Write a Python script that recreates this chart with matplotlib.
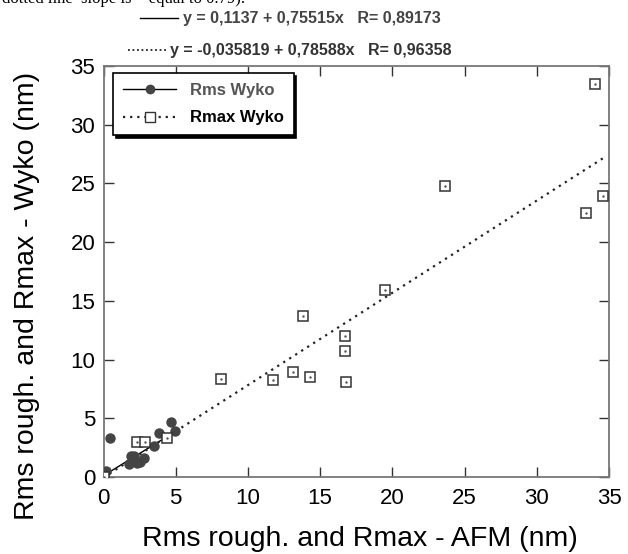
import numpy as np
import matplotlib
matplotlib.use("Agg")
import matplotlib.pyplot as plt
from matplotlib.lines import Line2D

plt.rcParams['font.family'] = ['Liberation Sans', 'DejaVu Sans']

# --- data
rms_afm = [0.2, 0.45, 1.75, 1.9, 2.1, 2.3, 2.5, 2.8, 3.5, 3.85, 4.65, 4.95]
rms_wyko = [0.5, 3.3, 1.1, 1.75, 1.8, 1.15, 1.3, 1.6, 2.65, 3.75, 4.7, 3.95]

rmax_afm = [0.03, 2.35, 2.85, 4.4, 8.15, 11.75, 13.1, 14.3, 16.8, 13.8,
            16.7, 16.7, 19.5, 23.65, 33.4, 34.6, 34.0]
rmax_wyko = [0.03, 2.95, 2.95, 3.3, 8.35, 8.25, 8.9, 8.5, 8.1, 13.7,
             12.0, 10.7, 15.9, 24.8, 22.5, 23.9, 33.5]

# fit coefficients (intercept, slope, R)
fit_rms = (0.1137, 0.75515, 0.89173)
fit_rmax = (-0.035819, 0.78588, 0.96358)

W, H = 628, 554
fig = plt.figure(figsize=(W / 100, H / 100), dpi=100)
ax = fig.add_axes([103.5 / W, (H - 477) / H, (609 - 103.5) / W, (477 - 66) / H])

# fit lines
xs = np.array([min(rms_afm), max(rms_afm)])
ax.plot(xs, fit_rms[0] + fit_rms[1] * xs, color='black', lw=1.0, zorder=2)
xm = np.array([0.0, 34.6])
ax.plot(xm, fit_rmax[0] + fit_rmax[1] * xm, color='#222222', lw=1.6,
        linestyle=(0, (1, 2.2)), zorder=2)

# points
ax.plot(rms_afm, rms_wyko, 'o', color='#444444', ms=6.5, mec='#444444',
        zorder=3)
ax.plot(rmax_afm, rmax_wyko, 's', mfc='white', mec='#333333', ms=6.5,
        mew=1.1, zorder=4)
ax.plot(rmax_afm, rmax_wyko, '.', color='#555555', ms=1.5, zorder=5)

ax.set_xlim(0, 35)
ax.set_ylim(0, 35)
ax.set_xticks(range(0, 36, 5))
ax.set_yticks(range(0, 36, 5))
ax.tick_params(direction='in', length=7, width=1, color='#333333',
               top=True, right=True, labelsize=16)
ax.tick_params(axis='x', pad=8)
ax.tick_params(axis='y', pad=6)
for s in ax.spines.values():
    s.set_color('#777777')
    s.set_linewidth(1.3)

fig.text(360 / W, 1 - 539 / H, 'Rms rough. and Rmax - AFM (nm)',
         fontsize=20.5, ha='center', va='center')
fig.text(27 / W, 1 - 296 / H, 'Rms rough. and Rmax - Wyko (nm)',
         fontsize=20.5, ha='center', va='center', rotation=90)

# legend
handles = [
    Line2D([], [], color='black', lw=1.0, marker='o', ms=6,
           mfc='#444444', mec='#444444'),
    Line2D([], [], color='#222222', lw=1.6, linestyle=(0, (1, 2.2)),
           marker='s', ms=6.5, mfc='white', mec='#333333'),
]
leg = ax.legend(handles, ['Rms Wyko', 'Rmax Wyko'], loc='upper left',
                bbox_to_anchor=(0.019, 0.983), borderaxespad=0,
                fancybox=False, handlelength=3.2, labelspacing=0.75,
                borderpad=0.6,
                prop={'weight': 'bold', 'size': 12},
                shadow={'color': 'black', 'alpha': 1.0},
                framealpha=1.0, edgecolor='black')
leg.get_frame().set_linewidth(1.2)
leg.get_texts()[0].set_color('#555555')

# equations on top
eq1 = 'y = %s + %sx   R= %s' % tuple(str(v).replace('.', ',') for v in fit_rms)
eq2 = 'y = %s + %sx   R= %s' % tuple(str(v).replace('.', ',') for v in fit_rmax)
fig.add_artist(Line2D([140 / W, 178 / W], [1 - 18 / H, 1 - 18 / H],
                      color='black', lw=1.0))
fig.text(183 / W, 1 - 18 / H, eq1, fontsize=11.5, weight='bold',
         color='#444444', va='center')
fig.add_artist(Line2D([128 / W, 167 / W], [1 - 50 / H, 1 - 50 / H],
                      color='#222222', lw=1.3, linestyle=(0, (1, 1.5))))
fig.text(170 / W, 1 - 50 / H, eq2, fontsize=11.5, weight='bold',
         color='#333333', va='center')

# caption cut off at the top edge of the picture
fig.text(2 / W, 1 - 3 / H, 'dotted line  slope is ~ equal to 0.79).',
         fontsize=12, family='Liberation Serif', va='baseline')

fig.savefig('out.png', dpi=100)
